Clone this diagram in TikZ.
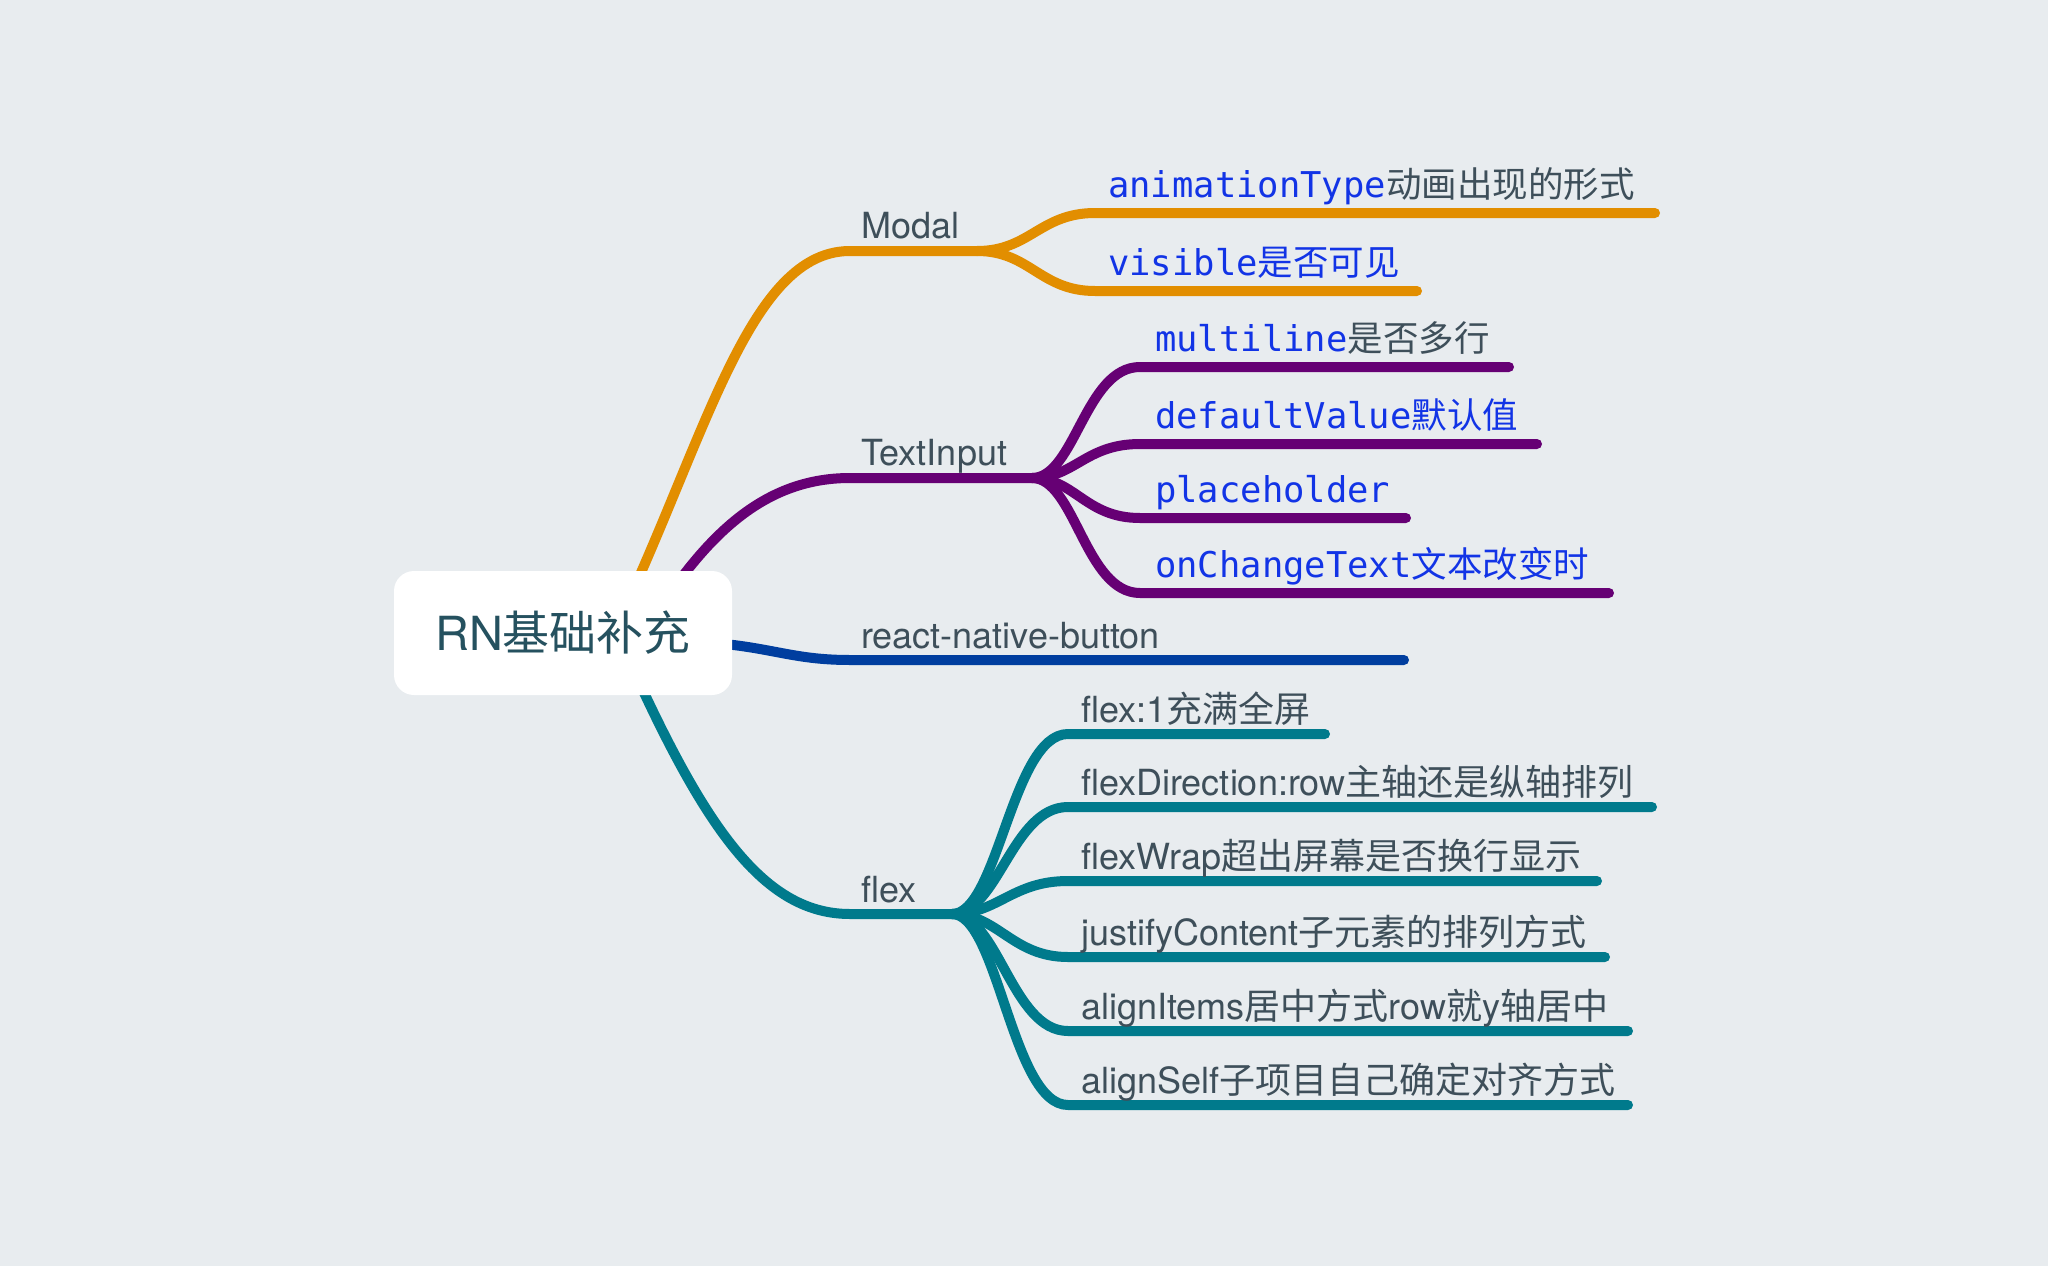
\documentclass[tikz,border=0pt]{standalone}
\usepackage{fontspec}
\setmainfont{TeX Gyre Heros}
\newfontfamily\cjk{Noto Sans CJK SC}
\newfontfamily\mono{DejaVu Sans Mono}
\newcommand\zh[1]{{\cjk #1}}
\definecolor{bg}{HTML}{E8ECEF}
\definecolor{txtgray}{HTML}{3E4F5A}
\definecolor{codeblue}{HTML}{1234E6}
\definecolor{orangeb}{HTML}{E28E00}
\definecolor{purpleb}{HTML}{660074}
\definecolor{blueb}{HTML}{003E9F}
\definecolor{tealb}{HTML}{007A8C}
\definecolor{roottxt}{HTML}{25515F}
\begin{document}
\begin{tikzpicture}[x=1pt,y=-1pt,
  br/.style={line width=10pt,line cap=round,line join=round},
  lbl/.style={anchor=base west,inner sep=0pt,text=txtgray,font=\fontsize{36}{40}\selectfont},
  code/.style={anchor=base west,inner sep=0pt,text=codeblue,font=\mono\fontsize{35.5}{40}\selectfont},
  rootbox/.style={fill=white,rounded corners=20pt,minimum width=338pt,minimum height=124pt,inner sep=0pt,text=roottxt,font=\fontsize{47}{52}\selectfont}]
\fill[bg] (0,0) rectangle (2048,1266);
\useasboundingbox (0,0) rectangle (2048,1266);

% ---------- Modal ----------
\coordinate (m0) at (590,680);
\coordinate (m1) at (850,251);
\coordinate (mF) at (977,251);
\coordinate (a1) at (1095,213);
\coordinate (a2) at (1655,213);
\coordinate (v1) at (1095,291);
\coordinate (v2) at (1417,291);
\draw[br,orangeb] (m0) .. controls (700,470) and (740,251) .. (m1) -- (mF);
\draw[br,orangeb] (mF) .. controls (1030,251) and (1040,213) .. (a1) -- (a2);
\draw[br,orangeb] (mF) .. controls (1030,251) and (1040,291) .. (v1) -- (v2);

% ---------- TextInput ----------
\coordinate (t0) at (640,640);
\coordinate (t1) at (850,478);
\coordinate (tF) at (1032,478);
\coordinate (ml1) at (1140,367);
\coordinate (ml2) at (1509,367);
\coordinate (dv1) at (1140,444);
\coordinate (dv2) at (1537,444);
\coordinate (ph1) at (1140,518);
\coordinate (ph2) at (1406,518);
\coordinate (oc1) at (1140,593);
\coordinate (oc2) at (1609,593);
\draw[br,purpleb] (t0) .. controls (700,540) and (760,478) .. (t1) -- (tF);
\draw[br,purpleb] (tF) .. controls (1075,478) and (1085,367) .. (ml1) -- (ml2);
\draw[br,purpleb] (tF) .. controls (1075,478) and (1085,444) .. (dv1) -- (dv2);
\draw[br,purpleb] (tF) .. controls (1075,478) and (1085,518) .. (ph1) -- (ph2);
\draw[br,purpleb] (tF) .. controls (1075,478) and (1085,593) .. (oc1) -- (oc2);

% ---------- react-native-button ----------
\coordinate (r0) at (700,642);
\coordinate (r1) at (850,660);
\coordinate (r2) at (1404,660);
\draw[br,blueb] (r0) .. controls (770,646) and (790,660) .. (r1) -- (r2);

% ---------- flex ----------
\coordinate (f0) at (620,640);
\coordinate (f1) at (850,914);
\coordinate (fF) at (952,914);
\draw[br,tealb] (f0) .. controls (700,820) and (760,914) .. (f1) -- (fF);
\foreach \y/\e [count=\i] in {734/1325,807/1652,881/1597,957/1605,1031/1628,1105/1628}{
  \coordinate (fc\i a) at (1068,\y);
  \coordinate (fc\i b) at (\e,\y);
  \draw[br,tealb] (fF) .. controls (998,914) and (1012,\y) .. (fc\i a) -- (fc\i b);
}

% ---------- root ----------
\node[rootbox] (root) at (563,633) {RN\zh{基础补充}};

% ---------- labels ----------
\node[lbl] (modal) at (861,238) {Modal};
\node[lbl] (textinput) at (861,465) {TextInput};
\node[lbl] (rnb) at (861,648) {react-native-button};
\node[lbl] (flex) at (861,902) {flex};

\node[code] (anim) at (1108,197) {animationType{\color{txtgray}\zh{动画出现的形式}}};
\node[code] (vis) at (1108,275) {visible\zh{是否可见}};
\node[code] (ml) at (1155,351) {multiline{\color{txtgray}\zh{是否多行}}};
\node[code] (dv) at (1155,428) {defaultValue\zh{默认值}};
\node[code] (ph) at (1155,502) {placeholder};
\node[code] (oc) at (1155,577) {onChangeText\zh{文本改变时}};

\node[lbl] (fl1) at (1081,722) {flex:1\zh{充满全屏}};
\node[lbl] (fl2) at (1081,795) {flexDirection:row\zh{主轴还是纵轴排列}};
\node[lbl] (fl3) at (1081,869) {flexWrap\zh{超出屏幕是否换行显示}};
\node[lbl] (fl4) at (1081,945) {justifyContent\zh{子元素的排列方式}};
\node[lbl] (fl5) at (1081,1019) {alignItems\zh{居中方式}row\zh{就}y\zh{轴居中}};
\node[lbl] (fl6) at (1081,1093) {alignSelf\zh{子项目自己确定对齐方式}};
\end{tikzpicture}
\end{document}
